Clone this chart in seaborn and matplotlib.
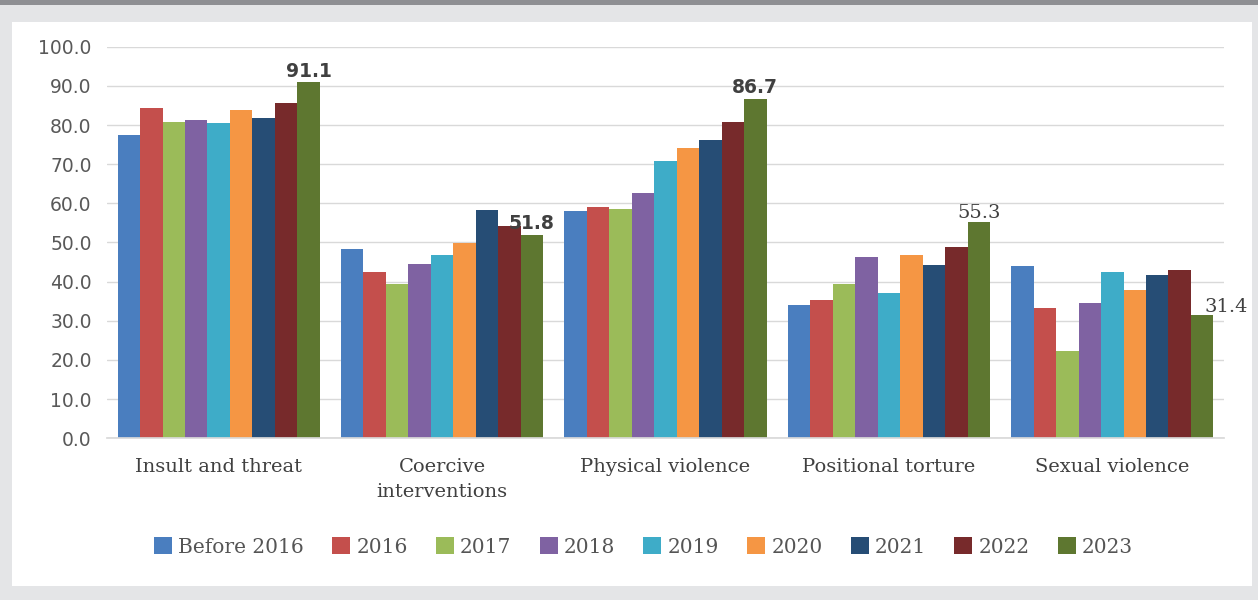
import numpy as np
import pandas as pd
import matplotlib
matplotlib.use("Agg")
import matplotlib.pyplot as plt
from matplotlib.patches import Rectangle
import seaborn as sns

# ── data ──────────────────────────────────────────────
categories = ["Insult and threat", "Coercive\ninterventions", "Physical violence",
              "Positional torture", "Sexual violence"]
years = ["Before 2016", "2016", "2017", "2018", "2019", "2020", "2021", "2022", "2023"]

before_2016 = [77.5, 48.4, 58.0, 34.0, 43.9]
y2016 = [84.3, 42.4, 59.0, 35.3, 33.4]
y2017 = [80.7, 39.3, 58.5, 39.5, 22.4]
y2018 = [81.3, 44.4, 62.6, 46.3, 34.5]
y2019 = [80.5, 46.8, 70.7, 37.2, 42.5]
y2020 = [83.9, 49.8, 74.1, 46.8, 37.9]
y2021 = [81.8, 58.2, 76.1, 44.2, 41.8]
y2022 = [85.6, 54.3, 80.8, 48.9, 43.0]
y2023 = [91.1, 51.8, 86.7, 55.3, 31.4]

series = [before_2016, y2016, y2017, y2018, y2019, y2020, y2021, y2022, y2023]
yticks = np.arange(0, 101, 10)

# ── style ─────────────────────────────────────────────
PALETTE = ['#4A7EBF', '#C44F4C', '#9BBB59', '#7F62A2', '#3EACC8',
           '#F59644', '#264D75', '#772A2B', '#5E7730']
BG = '#E4E5E7'
GRID = '#D9D9D9'

sns.set_theme(style="white")
plt.rcParams['font.family'] = ['DejaVu Sans']

rows = []
for yr, vals in zip(years, series):
    for cat, v in zip(categories, vals):
        rows.append({"category": cat, "year": yr, "value": v})
df = pd.DataFrame(rows)

fig = plt.figure(figsize=(12.58, 6.0), dpi=100)
fig.patch.set_facecolor(BG)
# white card + dark strip on top
fig.add_artist(Rectangle((12 / 1258, 1 - 586 / 600), 1240 / 1258, 564 / 600,
                         transform=fig.transFigure, facecolor='white',
                         edgecolor='none', zorder=-2))
fig.add_artist(Rectangle((0, 1 - 4.5 / 600), 1, 4.5 / 600,
                         transform=fig.transFigure, facecolor='#8E8F93',
                         edgecolor='none', zorder=-2))

ax = fig.add_axes([107 / 1258, 1 - 438.3 / 600, 1117 / 1258, 391.6 / 600])
ax.set_facecolor('white')

sns.barplot(data=df, x="category", y="value", hue="year", order=categories,
            hue_order=years, palette=PALETTE, saturation=1, width=0.905,
            gap=0, errorbar=None, linewidth=0, ax=ax)

ax.set_xlim(-0.5, 4.5)
ax.set_ylim(0, 100)
ax.set_yticks(yticks)
ax.set_yticklabels([f"{t:.1f}" for t in yticks])
ax.set_xlabel("")
ax.set_ylabel("")
ax.yaxis.grid(True, color=GRID, linewidth=1)
ax.set_axisbelow(True)
for s in ['top', 'right', 'left']:
    ax.spines[s].set_visible(False)
ax.spines['bottom'].set_color(GRID)
ax.tick_params(axis='y', length=0, pad=11, labelsize=13.5, labelcolor='#595959')
ax.tick_params(axis='x', length=0, pad=14)
for lab in ax.get_xticklabels():
    lab.set_fontfamily('DejaVu Serif')
    lab.set_fontsize(14)
    lab.set_color('#404040')
    lab.set_linespacing(1.55)

# value labels on the 2023 bars
label_style = [
    dict(family='DejaVu Sans', weight='bold', size=13.5, dx=0, dy=3.5),
    dict(family='DejaVu Sans', weight='bold', size=13.5, dx=0, dy=4.8),
    dict(family='DejaVu Sans', weight='bold', size=13.5, dx=0, dy=4.5),
    dict(family='DejaVu Serif', weight='normal', size=14, dx=0, dy=2.7),
    dict(family='DejaVu Serif', weight='normal', size=14, dx=17, dy=2.7),
]
last = ax.containers[-1]
for bar, v, st in zip(last, y2023, label_style):
    ax.annotate(f"{v:.1f}", (bar.get_x() + bar.get_width() / 2, bar.get_height()),
                xytext=(st['dx'], st['dy']), textcoords='offset points',
                ha='center', va='baseline', color='#404040',
                family=st['family'], weight=st['weight'], fontsize=st['size'],
                annotation_clip=False)

sns.move_legend(ax, 'center', bbox_to_anchor=((643.5 - 107) / 1117, (438.3 - 547) / 391.6),
                ncol=9, frameon=False, title=None,
                handlelength=0.9, handleheight=0.9, handletextpad=0.3,
                columnspacing=1.4,
                prop={'family': 'DejaVu Serif', 'size': 14.5})
for t in ax.get_legend().get_texts():
    t.set_color('#555555')

fig.savefig("out.png", dpi=100, facecolor=BG)
